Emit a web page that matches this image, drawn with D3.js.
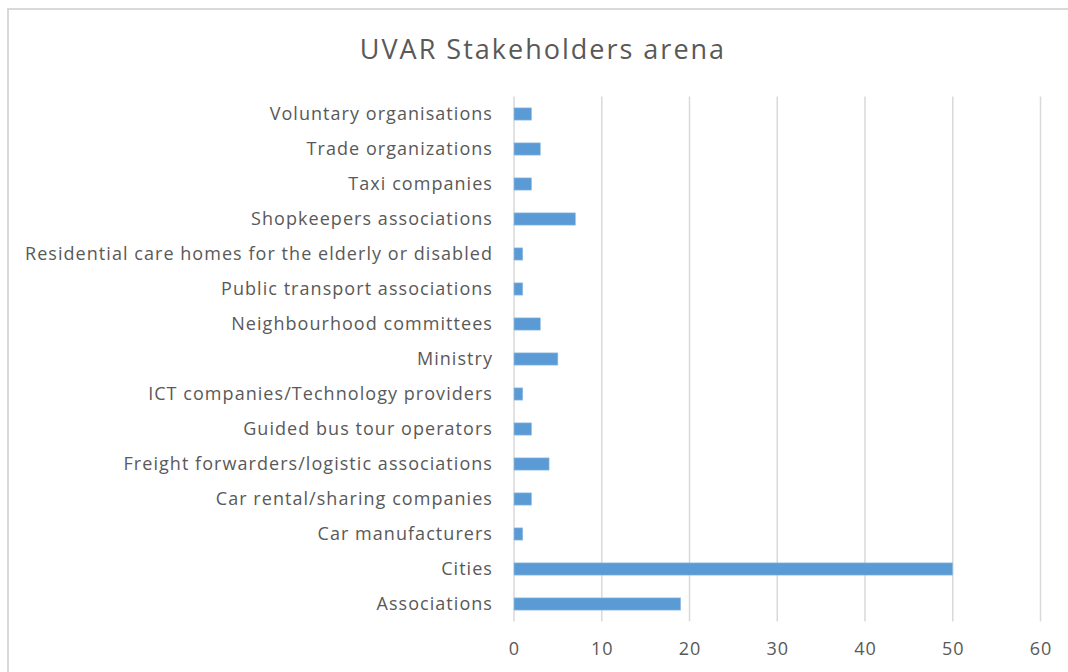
<!DOCTYPE html>
<html>
<head>
<meta charset="utf-8">
<script src="https://cdn.jsdelivr.net/npm/d3@7"></script>
<style>
  html, body { margin: 0; padding: 0; background: #fff; }
  svg { display: block; }
</style>
</head>
<body>
<svg id="chart" width="1068" height="672"></svg>
<script>
const title = "UVAR Stakeholders arena";
const categories = [
  "Voluntary organisations",
  "Trade organizations",
  "Taxi companies",
  "Shopkeepers associations",
  "Residential care homes for the elderly or disabled",
  "Public transport associations",
  "Neighbourhood committees",
  "Ministry",
  "ICT companies/Technology providers",
  "Guided bus tour operators",
  "Freight forwarders/logistic associations",
  "Car rental/sharing companies",
  "Car manufacturers",
  "Cities",
  "Associations"
];
const values = [2, 3, 2, 7, 1, 1, 3, 5, 1, 2, 4, 2, 1, 50, 19];
const xTicks = [0, 10, 20, 30, 40, 50, 60];

const svg = d3.select("#chart");
const font = "'Open Sans', 'Noto Sans', sans-serif";
const textColor = "#595959";
const gridColor = "#d9d9d9";

// chart frame
svg.append("rect")
  .attr("x", 8).attr("y", 9)
  .attr("width", 1100).attr("height", 700)
  .attr("fill", "#fff")
  .attr("stroke", gridColor).attr("stroke-width", 2);

const plot = { left: 514, right: 1040.5, top: 96.5, bottom: 621.5 };

const x = d3.scaleLinear().domain([0, 60]).range([plot.left, plot.right]);
const y = d3.scaleBand().domain(categories)
  .range([plot.top, plot.bottom])
  .paddingInner(0.65).paddingOuter(0.325);

// title
svg.append("text")
  .attr("x", 543).attr("y", 59)
  .attr("text-anchor", "middle")
  .attr("font-family", font)
  .attr("font-size", 27)
  .attr("letter-spacing", 2)
  .attr("fill", textColor)
  .text(title);

// gridlines
svg.append("g")
  .selectAll("line")
  .data(xTicks)
  .join("line")
  .attr("x1", d => x(d)).attr("x2", d => x(d))
  .attr("y1", plot.top).attr("y2", plot.bottom)
  .attr("stroke", gridColor).attr("stroke-width", 1.5);

// x axis labels
const xAxis = d3.axisBottom(x).tickValues(xTicks).tickSize(0).tickPadding(0).tickFormat(d3.format("d"));
const gx = svg.append("g")
  .attr("transform", `translate(0,${plot.bottom + 21})`)
  .call(xAxis);
gx.select(".domain").remove();
gx.selectAll("text")
  .attr("font-family", font)
  .attr("font-size", 18)
  .attr("letter-spacing", 1)
  .attr("fill", textColor);

// y axis labels
const yAxis = d3.axisLeft(y).tickSize(0).tickPadding(0);
const gy = svg.append("g")
  .attr("transform", `translate(${plot.left - 21},0)`)
  .call(yAxis);
gy.select(".domain").remove();
gy.selectAll("text")
  .attr("font-family", font)
  .attr("font-size", 18)
  .attr("letter-spacing", 1.05)
  .attr("fill", textColor);

// bars
svg.append("g")
  .selectAll("rect")
  .data(categories.map((c, i) => ({ c, v: values[i] })))
  .join("rect")
  .attr("x", x(0))
  .attr("y", d => y(d.c))
  .attr("width", d => x(d.v) - x(0))
  .attr("height", y.bandwidth())
  .attr("fill", "#5b9bd5")
  .attr("stroke", "#9dc3e6")
  .attr("stroke-width", 0.6);
</script>
</body>
</html>
